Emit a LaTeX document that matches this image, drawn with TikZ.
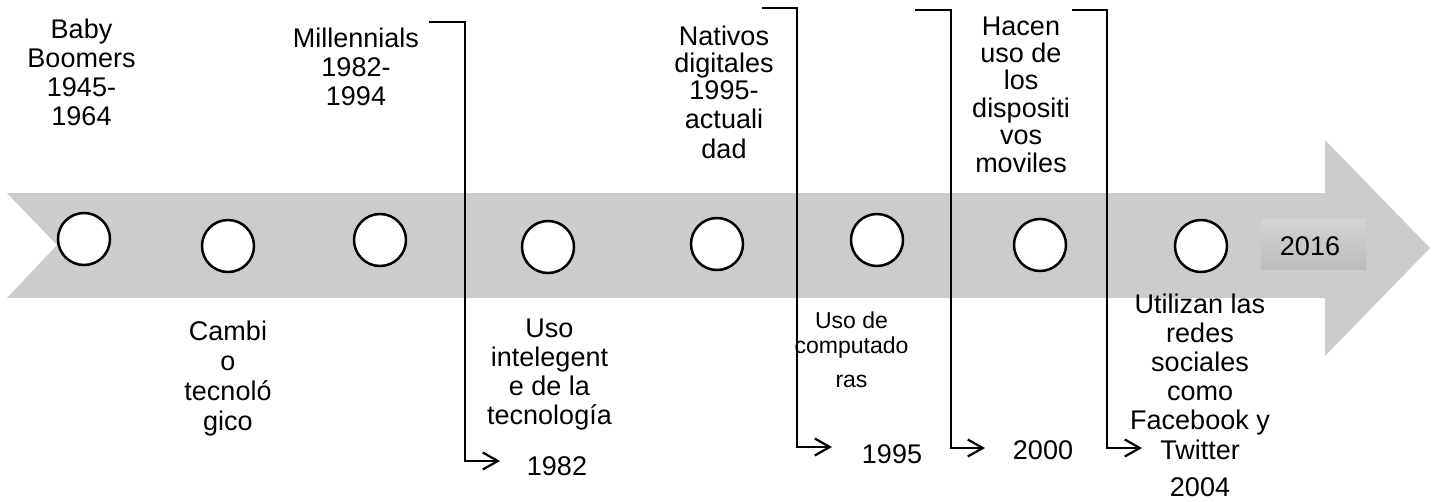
\documentclass[tikz,border=0pt]{standalone}
\usepackage{fontspec}
\setmainfont{Liberation Sans}
\usetikzlibrary{arrows.meta}
\newcommand\stk[1]{\vtop{\halign{\hfil##\hfil\cr#1\crcr}}}
\tikzset{
  band/.style={fill={rgb,255:red,204;green,204;blue,204}, draw=none},
  dot/.style={circle, draw=black, line width=2.5pt, fill=white, minimum size=52pt, inner sep=0pt},
  lbl/.style={anchor=base, inner sep=0pt, font=\fontsize{27}{29.3}\selectfont},
  small/.style={anchor=base, inner sep=0pt, font=\fontsize{23}{25}\selectfont},
  conn/.style={line width=2.2pt, -{Straight Barb[length=15pt,width=17pt,line width=2.2pt]}},
  yearbox/.style={minimum width=105pt, minimum height=50pt, inner sep=0pt,
    top color={rgb,255:red,212;green,212;blue,212}, bottom color={rgb,255:red,188;green,188;blue,188}},
}
\begin{document}
\begin{tikzpicture}[x=1pt,y=-1pt]
\useasboundingbox (0,0) rectangle (1432,501);
% big arrow
\path[band] (7,193) -- (1325,193) -- (1325,140) -- (1430,248) -- (1325,356) -- (1325,298) -- (7,298) -- (57,245) -- cycle;
% 2016 box
\node[yearbox] (y2016) at (1313.5,244) {};
\node[lbl] (t2016) at (1310,255) {2016};
% circles
\node[dot] (d1) at (84,239) {};
\node[dot] (d2) at (228,246) {};
\node[dot] (d3) at (380,240) {};
\node[dot] (d4) at (548,247) {};
\node[dot] (d5) at (717,244) {};
\node[dot] (d6) at (877,240) {};
\node[dot] (d7) at (1040,245) {};
\node[dot] (d8) at (1201,246) {};
% texts above
\node[lbl, font=\fontsize{27}{29.3}\selectfont] (baby) at (81.5,38) {\stk{Baby\cr Boomers\cr 1945-\cr 1964}};
\node[lbl, font=\fontsize{27}{29}\selectfont] (mill) at (356,47) {\stk{Millennials\cr 1982-\cr 1994}};
\node[lbl, font=\fontsize{27}{27}\selectfont] (nat) at (724,45) {\stk{Nativos\cr digitales\cr 1995-\cr\noalign{\vskip2pt} actuali\cr\noalign{\vskip3pt} dad}};
\node[lbl, font=\fontsize{27}{27.4}\selectfont] (hac) at (1021,35) {\stk{Hacen\cr uso de\cr los\cr dispositi\cr vos\cr moviles}};
% texts below
\node[lbl, font=\fontsize{27}{30}\selectfont] (camb) at (228,340) {\stk{Cambi\cr o\cr tecnoló\cr gico}};
\node[lbl, font=\fontsize{27}{29.3}\selectfont] (uso) at (549.5,337) {\stk{Uso\cr intelegent\cr e de la\cr tecnología}};
\node[small] (comp) at (851.5,328) {\stk{Uso de\cr computado\cr\noalign{\vskip9pt} ras}};
\node[lbl, font=\fontsize{27}{29.2}\selectfont] (util) at (1200,313) {\stk{Utilizan las\cr redes\cr sociales\cr como\cr Facebook y\cr Twitter}};
% years
\node[lbl] (y1982) at (557,475) {1982};
\node[lbl] (y1995) at (892,463) {1995};
\node[lbl] (y2000) at (1043,459) {2000};
\node[lbl] (y2004) at (1200,496) {2004};
% connectors
\coordinate (c1a) at (429,22);   \coordinate (c1b) at (500,461);
\coordinate (c2a) at (762,8);    \coordinate (c2b) at (832,447);
\coordinate (c3a) at (915,10);   \coordinate (c3b) at (985,448);
\coordinate (c4a) at (1072,10);  \coordinate (c4b) at (1142,448);
\draw[conn] (c1a) -- ++(36,0) |- (c1b);
\draw[conn] (c2a) -- ++(35,0) |- (c2b);
\draw[conn] (c3a) -- ++(36,0) |- (c3b);
\draw[conn] (c4a) -- ++(35,0) |- (c4b);
\end{tikzpicture}
\end{document}
